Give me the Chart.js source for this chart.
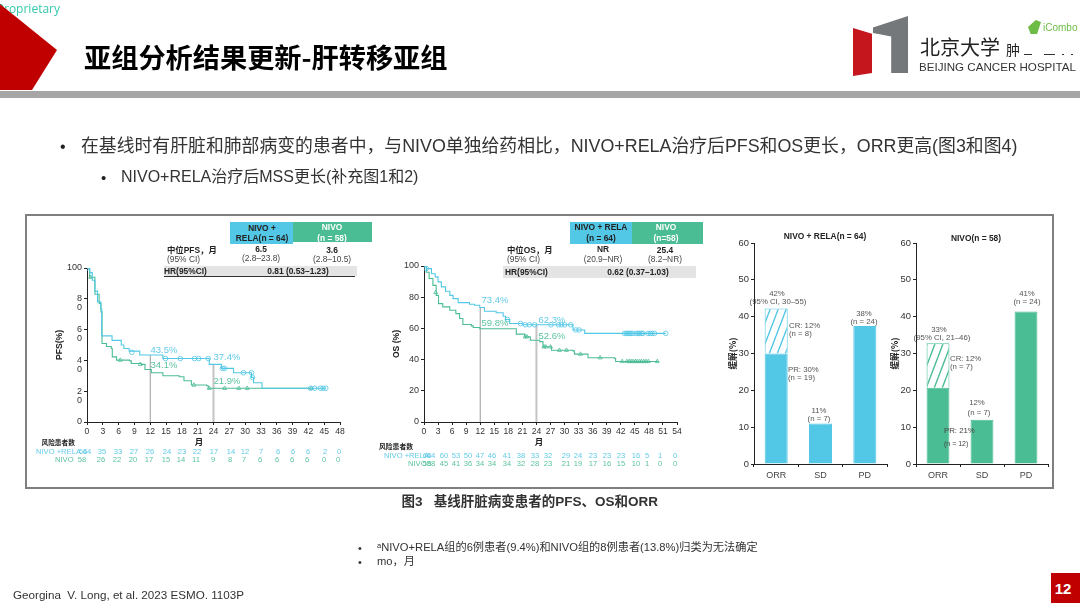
<!DOCTYPE html>
<html>
<head>
<meta charset="utf-8">
<script src="https://cdn.jsdelivr.net/npm/chart.js@4"></script>
<style>
html, body { margin: 0; padding: 0; background: #fff; }
#slide { position: relative; width: 1080px; height: 608px; overflow: hidden; background: #fff;
  font-family: "Liberation Sans", "Noto Sans CJK SC", sans-serif; }
.box { position: absolute; }
.t { position: absolute; white-space: pre; line-height: 1; }
#panel { position: absolute; left: 0; top: 0; width: 1080px; height: 608px; filter: blur(0.45px); }
canvas { position: absolute; }
</style>
</head>
<body>
<div id="slide"><div id="panel"></div></div>
<script>
var CYAN = '#53c7e6', GREEN = '#4bbd94';
var CYAN_TXT = '#63cbe8', GREEN_TXT = '#5cc39e';

// PFS curves, months / percent
var pfsRelaX = [0, 0.5, 1, 1.5, 2, 2.6, 2.8, 4.75, 6.5, 7, 8, 10, 14.4, 23.2, 25.5, 27.8, 31.2, 31.6, 33.2, 45.3];
var pfsRelaY = [100, 97, 92, 85, 78, 73.5, 55.9, 53, 50, 47.7, 46, 43.5, 41.2, 37.4, 34.8, 32, 29, 25.5, 21.9, 21.9];
var pfsRelaCensorX = [0, 8.5, 14.9, 17.7, 20.4, 21.2, 23, 25.7, 26.1, 29.7, 31.2, 31.4, 42.4, 43.2, 44.3, 44.8, 45.3];
var pfsRelaCensorY = [100, 45.2, 41.2, 41.2, 41.2, 41.2, 41.2, 34.8, 34.8, 32, 32, 29, 21.9, 21.9, 21.9, 21.9, 21.9];
var pfsNivoX = [0, 0.5, 1.5, 2.3, 2.65, 2.85, 3.7, 4.6, 4.8, 5.6, 8.1, 8.4, 10.3, 11, 12.2, 14.4, 17.5, 18.4, 19.8, 22.7, 23, 42.6];
var pfsNivoY = [100, 94, 83, 77, 71.5, 51, 49, 47.7, 42.3, 40.2, 39.7, 38, 37.4, 34.1, 32, 30, 29.4, 26.8, 24, 23.5, 21.9, 21.9];
var pfsNivoCensorX = [0.7, 6.3, 10.1, 20.3, 23.2, 26.1, 28.8, 30.4, 42.6];
var pfsNivoCensorY = [94, 40.2, 37.4, 24, 21.9, 21.9, 21.9, 21.9, 21.9];
var pfsRefX = [12, 24];
var pfsRefTop = [43.5, 37.4];
var pfsYLabels = ['0', ['', '2', '0'], ['', '4', '0'], ['', '6', '0'], ['', '8', '0'], '100'];

// OS curves
var osRelaX = [0, 0.5, 1.6, 2.4, 3, 3.7, 4.6, 5.5, 6.2, 7.3, 9.7, 10.8, 11.9, 12.9, 15.4, 16.9, 17.4, 18.3, 21.1, 31.8, 34.3, 51.6];
var osRelaY = [100, 98.3, 95, 93, 89.8, 86.6, 83.8, 81.2, 79.1, 76.5, 75.5, 74.8, 73.4, 71, 70, 67.8, 65.7, 63.1, 62.3, 59, 56.8, 56.8];
var osRelaCensorX = [0.5, 17.8, 20.6, 21.6, 22.5, 23.6, 27.1, 28.7, 29.3, 30, 31.3, 32.4, 33.1, 42.8, 43.2, 43.5, 43.9, 44.2, 44.6, 45.3, 45.7, 46, 46.4, 46.7, 47.8, 48.3, 48.7, 49.2, 51.6];
var osRelaCensorY = [98.3, 65.7, 63.1, 62.3, 62.3, 62.3, 62.3, 62.3, 62.3, 62.3, 62.3, 59, 59, 56.8, 56.8, 56.8, 56.8, 56.8, 56.8, 56.8, 56.8, 56.8, 56.8, 56.8, 56.8, 56.8, 56.8, 56.8, 56.8];
var osNivoX = [0, 0.5, 1.1, 1.9, 2.6, 3.1, 4, 5.5, 6.8, 7.6, 8.3, 10.1, 10.5, 11.9, 19.7, 21.5, 22.7, 24.7, 25.4, 27.2, 31.8, 32.1, 35, 40.7, 40.9, 50.1];
var osNivoY = [100, 96, 92, 87.6, 81.2, 75.9, 73.8, 71.6, 69.5, 66.3, 62.5, 61.6, 60.6, 59.8, 56.3, 54.6, 52.4, 51.5, 48.2, 46, 45.6, 43.5, 41.2, 40.7, 38.8, 38.8];
var osNivoCensorX = [2.5, 21.6, 22, 25.6, 26, 27, 28.9, 30.4, 33.4, 37.6, 42.3, 43.3, 43.8, 44.2, 44.6, 45.1, 45.5, 46, 46.4, 46.9, 47.4, 47.9, 49.8];
var osNivoCensorY = [83, 54.6, 54.6, 48.2, 48.2, 48.2, 46, 46, 43.5, 41.2, 38.8, 38.8, 38.8, 38.8, 38.8, 38.8, 38.8, 38.8, 38.8, 38.8, 38.8, 38.8, 38.8];
var osRefX = [12, 24];
var osRefTop = [73.4, 62.3];

// at risk tables
var pfsRiskRela = ['64', '35', '33', '27', '26', '24', '23', '22', '17', '14', '12', '7', '6', '6', '6', '2', '0'];
var pfsRiskNivo = ['58', '26', '22', '20', '17', '15', '14', '11', '9', '8', '7', '6', '6', '6', '6', '0', '0'];
var osRiskRela = ['64', '60', '53', '50', '47', '46', '41', '38', '33', '32', '29', '24', '23', '23', '23', '16', '5', '1', '0'];
var osRiskNivo = ['58', '45', '41', '36', '34', '34', '34', '32', '28', '23', '21', '19', '17', '16', '15', '10', '1', '0', '0'];
var pfsRiskPx = [87, 102, 118, 134, 150, 167, 182, 197, 214, 231, 245, 261, 278, 293, 308, 325, 339];
var osRiskPx = [431, 444, 456, 468, 480, 492, 507, 521, 535, 548, 566, 578, 593, 607, 621, 636, 647, 660, 675];

// response bars
var barCats = ['ORR', 'SD', 'PD'];
var relaPR = [30, 11, 37.5];
var relaCR = [12.2, 0, 0];
var nivoPR = [20.7, 12, 41.4];
var nivoCR = [12.1, 0, 0];

var panel = document.getElementById('panel');
var slide = document.getElementById('slide');

function rect(parent, x, y, w, h, color, clip) {
  var d = document.createElement('div');
  d.className = 'box';
  d.style.cssText = 'left:' + x + 'px;top:' + y + 'px;width:' + w + 'px;height:' + h + 'px;background:' + color + ';' + (clip ? 'clip-path:polygon(' + clip + ');' : '');
  parent.appendChild(d);
  return d;
}

// x,y is the vertical middle of the text; align l / c / r
function text(parent, s, x, y, size, color, bold, align, font) {
  var d = document.createElement('div');
  d.className = 't';
  d.textContent = s;
  var tx = align === 'c' ? '-50%' : (align === 'r' ? '-100%' : '0');
  d.style.cssText = 'left:' + x + 'px;top:' + y + 'px;font-size:' + size + 'px;color:' + color + ';font-weight:' + (bold ? 'bold' : 'normal') + ';transform:translate(' + tx + ',-50%);' + (font ? 'font-family:' + font + ';' : '');
  parent.appendChild(d);
}

// ---- slide furniture
text(slide, 'Proprietary', 60, 9, 12, '#35c9ac', false, 'r', '"Open Sans"');
rect(slide, 0, 0, 60, 92, '#c00000', '0 4px, 57px 50px, 32px 90px, 0 90px');
text(slide, '亚组分析结果更新-肝转移亚组', 84, 57, 27.2, '#000', true, 'l', '"Noto Sans CJK SC"');
rect(slide, 0, 91, 1080, 7, '#a6a6a6');

rect(slide, 853, 28, 19, 48, '#c5161d', '0 0, 100% 12%, 100% 94%, 0 100%');
rect(slide, 873, 16, 35, 57, '#75787b', '0 20%, 100% 0, 100% 100%, 52% 100%, 52% 36%, 0 30%');
text(slide, '北京大学', 920, 47, 20, '#222', false, 'l', '"Noto Sans CJK SC"');
text(slide, '肿', 1006, 49, 14, '#222', false, 'l', '"Noto Sans CJK SC"');
rect(slide, 1024, 54, 8, 1, '#333');
rect(slide, 1044, 54, 11, 1, '#333');
rect(slide, 1062, 54, 2, 1, '#333');
rect(slide, 1071, 54, 2, 1, '#333');
text(slide, 'BEIJING CANCER HOSPITAL', 919, 67, 11.6, '#333', false, 'l');
rect(slide, 1028, 20, 13, 14, '#6cbc45', '60% 0, 100% 15%, 70% 100%, 20% 100%, 0 50%');
text(slide, 'iCombo', 1043, 28, 10, '#6cbc45', false, 'l');

text(slide, '•', 60, 147, 16, '#222', false, 'l');
text(slide, '在基线时有肝脏和肺部病变的患者中，与NIVO单独给药相比，NIVO+RELA治疗后PFS和OS更长，ORR更高(图3和图4)', 81, 147, 17.85, '#333', false, 'l');
text(slide, '•', 101, 177, 15, '#222', false, 'l');
text(slide, 'NIVO+RELA治疗后MSS更长(补充图1和2)', 121, 177, 16, '#333', false, 'l');

var frame = rect(slide, 25, 214, 1029, 275, 'transparent');
frame.style.boxSizing = 'border-box';
frame.style.border = '2px solid #7f7f7f';

text(slide, '图3   基线肝脏病变患者的PFS、OS和ORR', 401.5, 502, 13.5, '#333', true, 'l');
text(slide, '•', 358, 548, 11, '#333', false, 'l');
text(slide, 'ᵃNIVO+RELA组的6例患者(9.4%)和NIVO组的8例患者(13.8%)归类为无法确定', 377, 548, 11.2, '#333', false, 'l');
text(slide, '•', 358, 562, 11, '#333', false, 'l');
text(slide, 'mo，月', 377, 562, 11.2, '#333', false, 'l');
text(slide, 'Georgina  V. Long, et al. 2023 ESMO. 1103P', 13, 595, 11.65, '#333', false, 'l');
rect(slide, 1051, 573, 29, 30, '#c00000');
text(slide, '12', 1063, 588, 15, '#fff', true, 'c');

// ---- headers above the survival plots
rect(panel, 230, 222, 63, 22, CYAN);
rect(panel, 293, 222, 79, 20, GREEN);
text(panel, 'NIVO +', 262, 228, 8.4, '#222', true, 'c');
text(panel, 'RELA(n = 64)', 262, 238, 8.4, '#222', true, 'c');
text(panel, 'NIVO', 332, 227, 8.4, '#fff', true, 'c');
text(panel, '(n = 58)', 332, 238, 8.4, '#fff', true, 'c');
text(panel, '中位PFS，月', 167, 250, 8.4, '#222', true, 'l');
text(panel, '(95% CI)', 167, 259, 8.4, '#444', false, 'l');
text(panel, '6.5', 261, 249, 8.4, '#222', true, 'c');
text(panel, '(2.8–23.8)', 261, 258, 8.4, '#444', false, 'c');
text(panel, '3.6', 332, 250, 8.4, '#222', true, 'c');
text(panel, '(2.8–10.5)', 332, 259, 8.4, '#444', false, 'c');
rect(panel, 164, 266, 193, 10, '#e4e4e4');
rect(panel, 164, 275.5, 191, 1, '#333');
text(panel, 'HR(95%CI)', 164, 271, 8.4, '#222', true, 'l');
text(panel, '0.81 (0.53–1.23)', 298, 271, 8.4, '#222', true, 'c');

rect(panel, 570, 222, 62, 22, CYAN);
rect(panel, 632, 222, 71, 22, GREEN);
text(panel, 'NIVO + RELA', 601, 227, 8.4, '#222', true, 'c');
text(panel, '(n = 64)', 601, 238, 8.4, '#222', true, 'c');
text(panel, 'NIVO', 666, 227, 8.4, '#fff', true, 'c');
text(panel, '(n=58)', 666, 238, 8.4, '#fff', true, 'c');
text(panel, '中位OS，月', 507, 250, 8.4, '#222', true, 'l');
text(panel, '(95% CI)', 507, 259, 8.4, '#444', false, 'l');
text(panel, 'NR', 603, 249, 8.4, '#222', true, 'c');
text(panel, '(20.9–NR)', 603, 259, 8.4, '#444', false, 'c');
text(panel, '25.4', 665, 250, 8.4, '#222', true, 'c');
text(panel, '(8.2–NR)', 665, 259, 8.4, '#444', false, 'c');
rect(panel, 503, 266, 193, 12, '#e4e4e4');
text(panel, 'HR(95%CI)', 505, 272, 8.4, '#222', true, 'l');
text(panel, '0.62 (0.37–1.03)', 638, 272, 8.4, '#222', true, 'c');

// ---- notes on the plots
text(panel, '43.5%', 164, 350, 9.5, CYAN_TXT, false, 'c');
text(panel, '37.4%', 227, 357, 9.5, CYAN_TXT, false, 'c');
text(panel, '34.1%', 164, 365, 9.5, GREEN_TXT, false, 'c');
text(panel, '21.9%', 227, 381, 9.5, GREEN_TXT, false, 'c');
text(panel, '73.4%', 495, 300, 9.5, CYAN_TXT, false, 'c');
text(panel, '62.3%', 552, 320, 9.5, CYAN_TXT, false, 'c');
text(panel, '59.8%', 495, 323, 9.5, GREEN_TXT, false, 'c');
text(panel, '52.6%', 552, 336, 9.5, GREEN_TXT, false, 'c');

text(panel, '月', 199, 441.5, 8.5, '#222', true, 'c');
text(panel, '月', 539, 441.5, 8.5, '#222', true, 'c');
text(panel, '风险患者数', 41.5, 443, 6.7, '#222', true, 'l');
text(panel, '风险患者数', 379, 446.5, 6.8, '#222', true, 'l');

text(panel, 'NIVO +RELA', 36, 452, 7.6, CYAN_TXT, false, 'l');
text(panel, '64', 83, 452, 7.6, CYAN_TXT, false, 'c');
text(panel, 'NIVO', 55, 460, 7.6, GREEN_TXT, false, 'l');
text(panel, 'NIVO +RELA', 384, 456, 7.6, CYAN_TXT, false, 'l');
text(panel, '64', 427, 456, 7.6, CYAN_TXT, false, 'c');
text(panel, 'NIVO', 408, 463.5, 7.6, GREEN_TXT, false, 'l');
text(panel, '58', 427, 463.5, 7.6, GREEN_TXT, false, 'c');

pfsRiskRela.forEach(function(v, i) { text(panel, v, pfsRiskPx[i], 452, 7.6, CYAN_TXT, false, 'c'); });
pfsRiskNivo.forEach(function(v, i) { text(panel, v, i === 0 ? 82 : pfsRiskPx[i] - 1, 460, 7.6, GREEN_TXT, false, 'c'); });
osRiskRela.forEach(function(v, i) { text(panel, v, osRiskPx[i], 456, 7.6, CYAN_TXT, false, 'c'); });
osRiskNivo.forEach(function(v, i) { text(panel, v, osRiskPx[i], 463.5, 7.6, GREEN_TXT, false, 'c'); });

// ---- notes on the bars
var barNote = '#555';
text(panel, 'NIVO + RELA(n = 64)', 825, 236, 8.4, '#222', true, 'c');
text(panel, '42%', 777, 294, 7.8, barNote, false, 'c');
text(panel, '(95% CI, 30–55)', 778, 302, 7.8, barNote, false, 'c');
text(panel, 'CR: 12%', 789, 326, 7.8, barNote, false, 'l');
text(panel, '(n = 8)', 789, 334, 7.8, barNote, false, 'l');
text(panel, 'PR: 30%', 788, 370, 7.8, barNote, false, 'l');
text(panel, '(n = 19)', 788, 378, 7.8, barNote, false, 'l');
text(panel, '11%', 819, 410.5, 7.8, barNote, false, 'c');
text(panel, '(n = 7)', 819, 418.5, 7.8, barNote, false, 'c');
text(panel, '38%', 864, 313.5, 7.8, barNote, false, 'c');
text(panel, '(n = 24)', 864, 321.5, 7.8, barNote, false, 'c');

text(panel, 'NIVO(n = 58)', 976, 238, 8.4, '#222', true, 'c');
text(panel, '33%', 939, 330, 7.8, barNote, false, 'c');
text(panel, '(95% CI, 21–46)', 942, 338, 7.8, barNote, false, 'c');
text(panel, 'CR: 12%', 950, 359, 7.8, barNote, false, 'l');
text(panel, '(n = 7)', 950, 367, 7.8, barNote, false, 'l');
text(panel, '12%', 977, 403, 7.8, barNote, false, 'c');
text(panel, '(n = 7)', 979, 413, 7.8, barNote, false, 'c');
text(panel, '41%', 1027, 294, 7.8, barNote, false, 'c');
text(panel, '(n = 24)', 1027, 302, 7.8, barNote, false, 'c');

// ---- charts
function pts(xs, ys) {
  return xs.map(function(x, i) { return { x: x, y: ys[i] }; });
}

function hatch(color) {
  var c = document.createElement('canvas');
  c.width = 8; c.height = 21;
  var g = c.getContext('2d');
  g.fillStyle = '#fff';
  g.fillRect(0, 0, 8, 21);
  g.strokeStyle = color;
  g.lineWidth = 1.4;
  g.beginPath();
  g.moveTo(-8, 21); g.lineTo(0, 0);
  g.moveTo(0, 21); g.lineTo(8, 0);
  g.moveTo(8, 21); g.lineTo(16, 0);
  g.stroke();
  return document.createElement('canvas').getContext('2d').createPattern(c, 'repeat');
}

function addChart(plot, yWidth, xHeight, config) {
  var topPad = 12, rightPad = 15;
  var cv = document.createElement('canvas');
  cv.width = plot.w + yWidth + rightPad;
  cv.height = plot.h + topPad + xHeight;
  cv.style.left = (plot.x - yWidth) + 'px';
  cv.style.top = (plot.y - topPad) + 'px';
  panel.appendChild(cv);
  config.options.responsive = false;
  config.options.animation = false;
  config.options.layout = { padding: { top: topPad, right: rightPad, left: 0, bottom: 0 } };
  config.options.plugins = { legend: { display: false }, tooltip: { enabled: false } };
  config.options.scales.x.afterFit = function(s) { s.height = xHeight; };
  config.options.scales.y.afterFit = function(s) { s.width = yWidth; };
  return new Chart(cv.getContext('2d'), config);
}

function axisBase(size) {
  return {
    border: { color: '#222', width: 1 },
    grid: { display: true, drawOnChartArea: false, drawTicks: true, tickLength: 3, tickColor: '#222' },
    ticks: { color: '#333', font: { size: size, family: '"Liberation Sans"', lineHeight: 1 }, padding: 2, autoSkip: false, maxRotation: 0 }
  };
}

function survivalChart(plot, xMax, yStep, yCallback, yTitle, sets) {
  var x = axisBase(8.6);
  x.type = 'linear'; x.min = 0; x.max = xMax;
  x.ticks.stepSize = 3;
  var y = axisBase(9);
  y.min = 0; y.max = 100;
  y.ticks.stepSize = yStep;
  if (yCallback) y.ticks.callback = yCallback;
  y.title = { display: true, text: yTitle, color: '#222', padding: 0, font: { size: 8.6, weight: 'bold', family: '"Liberation Sans"' } };
  var line = function(data, color) {
    return { data: data, showLine: true, stepped: true, borderColor: color, borderWidth: 1.1, pointRadius: 0, fill: false };
  };
  var marks = function(data, color, style) {
    return { data: data, showLine: false, pointStyle: style, pointRadius: 2.3, pointBackgroundColor: 'rgba(255,255,255,0)', pointBorderColor: color, pointBorderWidth: 0.8 };
  };
  var ref = function(i) {
    return { data: [{ x: sets.refX[i], y: 0 }, { x: sets.refX[i], y: sets.refTop[i] }], showLine: true, borderColor: i ? '#c4c4c4' : '#9a9a9a', borderWidth: i ? 2 : 1, pointRadius: 0 };
  };
  return addChart(plot, 33, 22, {
    type: 'scatter',
    data: { datasets: [
      line(pts(sets.relaX, sets.relaY), CYAN),
      marks(pts(sets.relaCX, sets.relaCY), CYAN, 'circle'),
      line(pts(sets.nivoX, sets.nivoY), GREEN),
      marks(pts(sets.nivoCX, sets.nivoCY), GREEN, 'triangle'),
      ref(0), ref(1)
    ] },
    options: { scales: { x: x, y: y } }
  });
}

survivalChart({ x: 87, y: 268, w: 253, h: 154 }, 48, 20,
  function(v) { return pfsYLabels[v / 20]; }, 'PFS(%)',
  { relaX: pfsRelaX, relaY: pfsRelaY, relaCX: pfsRelaCensorX, relaCY: pfsRelaCensorY,
    nivoX: pfsNivoX, nivoY: pfsNivoY, nivoCX: pfsNivoCensorX, nivoCY: pfsNivoCensorY,
    refX: pfsRefX, refTop: pfsRefTop });

survivalChart({ x: 424, y: 266, w: 253, h: 156 }, 54, 20, null, 'OS (%)',
  { relaX: osRelaX, relaY: osRelaY, relaCX: osRelaCensorX, relaCY: osRelaCensorY,
    nivoX: osNivoX, nivoY: osNivoY, nivoCX: osNivoCensorX, nivoCY: osNivoCensorY,
    refX: osRefX, refTop: osRefTop });

function barChart(plot, pr, cr, color) {
  var x = axisBase(9);
  x.stacked = true;
  x.ticks.padding = 4;
  x.ticks.color = '#444';
  var y = axisBase(9.4);
  y.stacked = true;
  y.min = 0; y.max = 60;
  y.ticks.stepSize = 10;
  y.title = { display: true, text: '缓解(%)', color: '#222', padding: 0, font: { size: 8.6, weight: 'bold', family: '"Noto Sans CJK SC"' } };
  var common = { barPercentage: 0.52, categoryPercentage: 1, borderWidth: 1 };
  return addChart(plot, 26, 20, {
    type: 'bar',
    data: { labels: barCats, datasets: [
      Object.assign({}, common, { data: pr, backgroundColor: color, borderColor: color }),
      Object.assign({}, common, { data: cr, backgroundColor: hatch(color), borderColor: color })
    ] },
    options: { scales: { x: x, y: y } }
  });
}

barChart({ x: 754, y: 243, w: 133, h: 221 }, relaPR, relaCR, CYAN);
barChart({ x: 916, y: 243, w: 132, h: 221 }, nivoPR, nivoCR, GREEN);

// sits on top of the green bar, so it has to come after the chart
text(panel, 'PR: 21%', 944, 431, 7.8, '#444', false, 'l');
text(panel, '(n = 12)', 944, 443, 7, '#444', false, 'l');
</script>
</body>
</html>
